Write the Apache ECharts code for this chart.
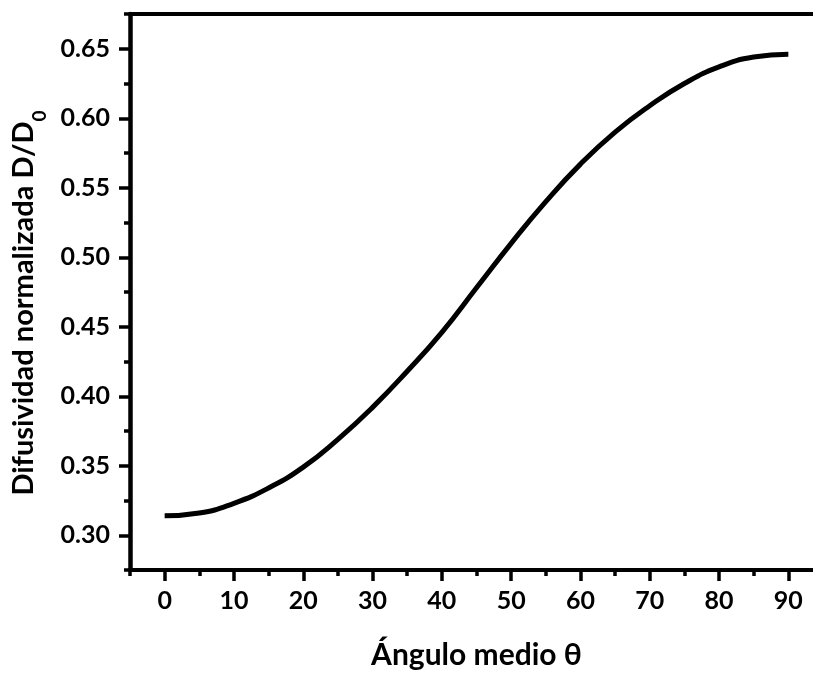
<!DOCTYPE html>
<html>
<head>
<meta charset="utf-8">
<script src="https://cdn.jsdelivr.net/npm/echarts@6/dist/echarts.min.js"></script>
<style>html,body{margin:0;padding:0;background:#fff}#c{width:813px;height:677px}</style>
</head>
<body>
<div id="c"></div>
<script>
// Data
const angles = [0, 5, 10, 15, 20, 25, 30, 35, 40, 45, 50, 55, 60, 65, 70, 75, 80, 85, 90];
const diffusivity = [0.314, 0.316, 0.323, 0.334, 0.349, 0.369, 0.392, 0.418, 0.446, 0.478, 0.510, 0.540, 0.567, 0.590, 0.609, 0.625, 0.637, 0.644, 0.646];
const xMajorTicks = [0, 10, 20, 30, 40, 50, 60, 70, 80, 90];
const xMinorTicks = [-5, 5, 15, 25, 35, 45, 55, 65, 75, 85, 95];
const yMajorTicks = [0.30, 0.35, 0.40, 0.45, 0.50, 0.55, 0.60, 0.65];
const yMinorTicks = [0.275, 0.325, 0.375, 0.425, 0.475, 0.525, 0.575, 0.625, 0.675];
const xTitle = 'Ángulo medio θ';
const yTitleMain = 'Difusividad normalizada D/D';
const yTitleSub = '0';

const FONT = 'Lato';
const chart = echarts.init(document.getElementById('c'), null, {renderer: 'canvas'});
const lbl = {fontFamily: FONT, fontWeight: 'bold', fontSize: 25, color: '#000'};
const lineW = 4;

chart.setOption({
  animation: false,
  backgroundColor: '#fff',
  grid: {left: 130, top: 14, bottom: 107, right: -10, containLabel: false, outerBoundsMode: 'none'},
  xAxis: [
    {
      type: 'value', position: 'bottom', min: -5, max: 95,
      axisLine: {show: true, onZero: false, lineStyle: {color: '#000', width: lineW}},
      axisTick: {show: true, customValues: xMajorTicks, length: 11, lineStyle: {color: '#000', width: 3.5}},
      axisLabel: Object.assign({show: true, customValues: xMajorTicks, margin: 18}, lbl),
      splitLine: {show: false},
      name: xTitle, nameLocation: 'middle', nameGap: 70,
      nameTextStyle: {fontFamily: FONT, fontWeight: 'bold', fontSize: 30, color: '#000'}
    },
    {
      type: 'value', position: 'bottom', min: -5, max: 95,
      axisLine: {show: false, onZero: false},
      axisTick: {show: true, customValues: xMinorTicks, length: 6, lineStyle: {color: '#000', width: 3.5}},
      axisLabel: {show: false},
      splitLine: {show: false}
    },
    {
      type: 'value', position: 'top', min: -5, max: 95,
      axisLine: {show: true, onZero: false, lineStyle: {color: '#000', width: lineW}},
      axisTick: {show: false}, axisLabel: {show: false}, splitLine: {show: false}
    }
  ],
  yAxis: [
    {
      type: 'value', position: 'left', min: 0.275, max: 0.675,
      axisLine: {show: true, onZero: false, lineStyle: {color: '#000', width: 4.5}},
      axisTick: {show: true, customValues: yMajorTicks, length: 11, lineStyle: {color: '#000', width: 3.5}},
      axisLabel: Object.assign({show: true, customValues: yMajorTicks, margin: 20,
        formatter: v => v.toFixed(2)}, lbl),
      splitLine: {show: false},
      name: '{m|' + yTitleMain + '}{s|' + yTitleSub + '}',
      nameLocation: 'middle', nameGap: 86, nameRotate: 90,
      nameTextStyle: {
        padding: [0, 22, 0, 0],
        rich: {
          m: {fontFamily: FONT, fontWeight: 'bold', fontSize: 29, color: '#000'},
          s: {fontFamily: FONT, fontWeight: 'bold', fontSize: 19, color: '#000', verticalAlign: 'bottom', padding: [0, 0, -12, 0]}
        }
      }
    },
    {
      type: 'value', position: 'left', min: 0.275, max: 0.675,
      axisLine: {show: false, onZero: false},
      axisTick: {show: true, customValues: yMinorTicks, length: 6, lineStyle: {color: '#000', width: 3.5}},
      axisLabel: {show: false}, splitLine: {show: false}
    },
    {
      type: 'value', position: 'right', min: 0.275, max: 0.675,
      axisLine: {show: true, onZero: false, lineStyle: {color: '#000', width: lineW}},
      axisTick: {show: false}, axisLabel: {show: false}, splitLine: {show: false}
    }
  ],
  series: [{
    type: 'line',
    xAxisIndex: 0, yAxisIndex: 0,
    data: angles.map((a, i) => [a, diffusivity[i]]),
    smooth: true,
    showSymbol: false,
    lineStyle: {color: '#000', width: 5, cap: 'butt'}
  }]
});
</script>
</body>
</html>
